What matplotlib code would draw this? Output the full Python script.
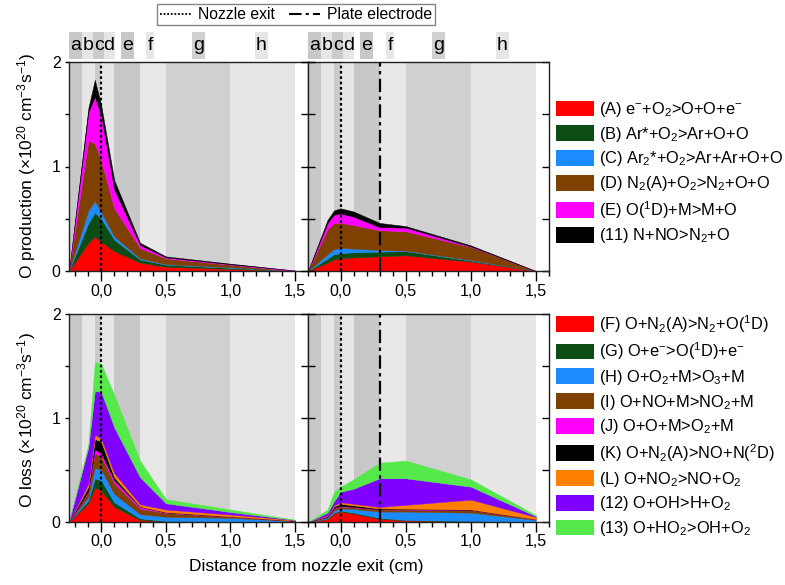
import numpy as np
import matplotlib
matplotlib.use('Agg')
import matplotlib.pyplot as plt
from matplotlib.patches import Patch, Rectangle
from matplotlib.lines import Line2D
from matplotlib.ticker import FixedLocator, MultipleLocator, FuncFormatter
import matplotlib.transforms as mtransforms

plt.rcParams['font.family'] = ['Liberation Sans', 'DejaVu Sans']
plt.rcParams['mathtext.fontset'] = 'custom'
plt.rcParams['mathtext.rm'] = 'Liberation Sans'
plt.rcParams['mathtext.it'] = 'Liberation Sans:italic'
plt.rcParams['mathtext.bf'] = 'Liberation Sans:bold'
plt.rcParams['mathtext.default'] = 'regular'

# ---------------- data ----------------
x = [-0.25, -0.1, -0.05, 0.0, 0.1, 0.3, 0.5, 1.0, 1.5]

# O production, free jet (left) - cumulative stack tops
prod_jet_A = [0, 0.27, 0.33, 0.28, 0.19, 0.08, 0.04, 0.02, 0.0]
prod_jet_B = [0, 0.46, 0.56, 0.50, 0.30, 0.11, 0.06, 0.03, 0.0]
prod_jet_C = [0, 0.58, 0.67, 0.56, 0.33, 0.12, 0.065, 0.035, 0.0]
prod_jet_D = [0, 1.25, 1.22, 1.05, 0.60, 0.22, 0.12, 0.06, 0.0]
prod_jet_E = [0, 1.52, 1.67, 1.48, 0.78, 0.25, 0.13, 0.065, 0.005]
prod_jet_11 = [0, 1.56, 1.83, 1.58, 0.87, 0.27, 0.14, 0.07, 0.005]

# O production, with plate electrode (right)
prod_plate_A = [0, 0.08, 0.11, 0.12, 0.13, 0.14, 0.15, 0.09, 0.0]
prod_plate_B = [0, 0.12, 0.16, 0.17, 0.18, 0.185, 0.19, 0.10, 0.0]
prod_plate_C = [0, 0.16, 0.21, 0.22, 0.215, 0.20, 0.195, 0.105, 0.0]
prod_plate_D = [0, 0.40, 0.46, 0.46, 0.44, 0.39, 0.38, 0.23, 0.0]
prod_plate_E = [0, 0.46, 0.54, 0.55, 0.52, 0.42, 0.415, 0.235, 0.0]
prod_plate_11 = [0, 0.49, 0.58, 0.60, 0.57, 0.46, 0.43, 0.245, 0.0]

# O loss, free jet (left)
loss_jet_F = [0, 0.18, 0.33, 0.30, 0.145, 0.02, 0.005, 0.002, 0.0]
loss_jet_G = [0, 0.21, 0.42, 0.40, 0.19, 0.035, 0.01, 0.005, 0.0]
loss_jet_H = [0, 0.24, 0.52, 0.50, 0.27, 0.075, 0.05, 0.04, 0.008]
loss_jet_I = [0, 0.29, 0.66, 0.63, 0.37, 0.13, 0.088, 0.05, 0.01]
loss_jet_J = [0, 0.30, 0.70, 0.66, 0.40, 0.145, 0.092, 0.052, 0.011]
loss_jet_K = [0, 0.34, 0.80, 0.77, 0.43, 0.15, 0.095, 0.054, 0.012]
loss_jet_L = [0, 0.37, 0.84, 0.80, 0.47, 0.17, 0.12, 0.072, 0.018]
loss_jet_12 = [0, 0.72, 1.26, 1.25, 0.91, 0.43, 0.18, 0.096, 0.02]
loss_jet_13 = [0, 0.75, 1.54, 1.52, 1.22, 0.59, 0.22, 0.12, 0.022]

# O loss, with plate electrode (right)
loss_plate_F = [0, 0.03, 0.08, 0.10, 0.08, 0.03, 0.015, 0.005, 0.0]
loss_plate_G = [0, 0.035, 0.09, 0.11, 0.09, 0.04, 0.02, 0.01, 0.0]
loss_plate_H = [0, 0.045, 0.11, 0.13, 0.125, 0.10, 0.10, 0.09, 0.02]
loss_plate_I = [0, 0.05, 0.13, 0.15, 0.14, 0.12, 0.12, 0.115, 0.025]
loss_plate_J = [0, 0.052, 0.135, 0.155, 0.145, 0.122, 0.122, 0.117, 0.026]
loss_plate_K = [0, 0.058, 0.15, 0.175, 0.16, 0.13, 0.128, 0.12, 0.027]
loss_plate_L = [0, 0.065, 0.16, 0.19, 0.175, 0.145, 0.165, 0.215, 0.048]
loss_plate_12 = [0, 0.09, 0.20, 0.29, 0.32, 0.42, 0.42, 0.34, 0.055]
loss_plate_13 = [0, 0.12, 0.29, 0.34, 0.41, 0.57, 0.59, 0.41, 0.065]

prod_labels = ['(A) e$^{-}$+O$_2$>O+O+e$^{-}$',
               '(B) Ar*+O$_2$>Ar+O+O',
               '(C) Ar$_2$*+O$_2$>Ar+Ar+O+O',
               '(D) N$_2$(A)+O$_2$>N$_2$+O+O',
               '(E) O($^1$D)+M>M+O',
               '(11) N+NO>N$_2$+O']
loss_labels = ['(F) O+N$_2$(A)>N$_2$+O($^1$D)',
               '(G) O+e$^{-}$>O($^1$D)+e$^{-}$',
               '(H) O+O$_2$+M>O$_3$+M',
               '(I) O+NO+M>NO$_2$+M',
               '(J) O+O+M>O$_2$+M',
               '(K) O+N$_2$(A)>NO+N($^2$D)',
               '(L) O+NO$_2$>NO+O$_2$',
               '(12) O+OH>H+O$_2$',
               '(13) O+HO$_2$>OH+O$_2$']

band_edges = [-0.25, -0.15, -0.05, 0.0, 0.1, 0.3, 0.5, 1.0, 1.5]
band_letters = ['a', 'b', 'c', 'd', 'e', 'f', 'g', 'h']
band_label_x = [-0.2, -0.1, -0.02, 0.06, 0.2, 0.38, 0.75, 1.24]
band_colors = ['#c8c8c8', '#e6e6e6', '#cbcbcb', '#e6e6e6',
               '#c8c8c8', '#e8e8e8', '#d0d0d0', '#e6e6e6']
box_widths = [0.1, 0.1, 0.085, 0.085, 0.1, 0.062, 0.1, 0.1]

prod_colors = ['#ff0000', '#0b4d14', '#1a8cff', '#804000', '#ff00ff', '#000000']
loss_colors = ['#ff0000', '#0b4d14', '#1a8cff', '#804000', '#ff00ff',
               '#000000', '#ff8000', '#8000ff', '#55e84a']

nozzle_x = 0.0
plate_x = 0.3

# ---------------- figure ----------------
fig = plt.figure(figsize=(7.85, 5.85), dpi=100)
W, H = 785.0, 585.0

def add_ax(l, r, t, b):
    return fig.add_axes([l / W, 1 - b / H, (r - l) / W, (b - t) / H])

ax_tl = add_ax(69, 308, 62, 271)
ax_tr = add_ax(308, 549, 62, 271)
ax_bl = add_ax(69, 308, 314, 522)
ax_br = add_ax(308, 549, 314, 522)

fmt = FuncFormatter(lambda v, p: ('%.1f' % (abs(v) if abs(v) < 1e-9 else v)).replace('.', ','))


def draw_stack(ax, tops, colors):
    prev = np.zeros(len(x))
    for top, c in zip(tops, colors):
        top = np.asarray(top, dtype=float)
        ax.fill_between(x, prev, top, facecolor=c, edgecolor=c, lw=0.3, zorder=2)
        prev = top


def style(ax, left_col, plate, letters):
    ax.set_xlim(-0.25, 1.6)
    ax.set_ylim(0, 2)
    for i in range(len(band_letters)):
        ax.axvspan(band_edges[i], band_edges[i + 1], color=band_colors[i], lw=0, zorder=0)
    ax.axvline(nozzle_x, color='k', ls=(0, (1.2, 1.2)), lw=1.6, zorder=4)
    if plate:
        ax.axvline(plate_x, color='k', ls=(0, (6, 2, 1.5, 2)), lw=1.6, zorder=4)
    ax.xaxis.set_major_locator(MultipleLocator(0.5))
    ax.xaxis.set_minor_locator(MultipleLocator(0.1))
    ax.xaxis.set_major_formatter(fmt)
    ax.tick_params(axis='x', which='major', direction='out', length=7, width=1,
                   labelsize=11.5, pad=2, top=False)
    ax.tick_params(axis='x', which='minor', direction='out', length=3.5, width=1, top=False)
    ax.yaxis.set_major_locator(FixedLocator([0, 1, 2]))
    ax.yaxis.set_minor_locator(FixedLocator([0.5, 1.5]))
    ax.yaxis.set_major_formatter(FuncFormatter(lambda v, p: '%d' % v))
    if left_col:
        ax.tick_params(axis='y', which='both', direction='out', length=3, width=1,
                       left=True, right=False, labelsize=11.5, pad=3)
        tw = ax.twinx()
        tw.set_ylim(0, 2)
        tw.yaxis.set_major_locator(FixedLocator([0, 0.5, 1, 1.5, 2]))
        tw.tick_params(axis='y', direction='inout', length=10, width=1,
                       right=True, labelright=False)
        for s in tw.spines.values():
            s.set_visible(False)
    else:
        ax.tick_params(axis='y', which='both', direction='in', length=5, width=1,
                       left=False, right=True, labelleft=False, labelright=False)
    for s in ax.spines.values():
        s.set_linewidth(1.0)
        s.set_color('#222222')
    if letters:
        trans = mtransforms.blended_transform_factory(ax.transData, ax.transAxes)
        for i, letter in enumerate(band_letters):
            xc = band_label_x[i]
            bw = box_widths[i]
            ax.add_patch(Rectangle((xc - bw / 2, 1.014), bw, 0.130, transform=trans,
                                   facecolor=band_colors[i], edgecolor='none',
                                   clip_on=False, zorder=4))
            ax.text(xc, 1.078, letter, transform=trans, ha='center', va='center',
                    fontsize=14, zorder=5, clip_on=False)


draw_stack(ax_tl, [prod_jet_A, prod_jet_B, prod_jet_C, prod_jet_D, prod_jet_E, prod_jet_11], prod_colors)
draw_stack(ax_tr, [prod_plate_A, prod_plate_B, prod_plate_C, prod_plate_D, prod_plate_E, prod_plate_11], prod_colors)
draw_stack(ax_bl, [loss_jet_F, loss_jet_G, loss_jet_H, loss_jet_I, loss_jet_J, loss_jet_K,
                   loss_jet_L, loss_jet_12, loss_jet_13], loss_colors)
draw_stack(ax_br, [loss_plate_F, loss_plate_G, loss_plate_H, loss_plate_I, loss_plate_J, loss_plate_K,
                   loss_plate_L, loss_plate_12, loss_plate_13], loss_colors)

style(ax_tl, True, False, True)
style(ax_tr, False, True, True)
style(ax_bl, True, False, False)
style(ax_br, False, True, False)

# axis labels
fig.text(27 / W, 1 - 166 / H, 'O production (×10$^{20}$ cm$^{-3}$s$^{-1}$)', rotation=90,
         ha='center', va='center', fontsize=12.5)
fig.text(27 / W, 1 - 420 / H, 'O loss (×10$^{20}$ cm$^{-3}$s$^{-1}$)', rotation=90,
         ha='center', va='center', fontsize=12.5)
fig.text(306 / W, 1 - 566 / H, 'Distance from nozzle exit (cm)', ha='center', va='center',
         fontsize=12.5)

# top legend
lh = [Line2D([], [], color='k', ls=(0, (1, 1)), lw=1.3),
      Line2D([], [], color='k', ls=(0, (6, 2, 1.5, 2)), lw=1.5)]
leg = fig.legend(lh, ['Nozzle exit', 'Plate electrode'], loc='upper center',
                 bbox_to_anchor=(296 / W, 1 - 4 / H), ncol=2, frameon=True, fancybox=False,
                 edgecolor='#666666', fontsize=11.3, handlelength=2.0, handletextpad=0.4,
                 columnspacing=0.9, borderpad=0.2, borderaxespad=0)
leg.get_frame().set_linewidth(1.0)

# reaction legends
ph = [Patch(facecolor=c, edgecolor='none') for c in prod_colors]
fig.legend(ph, prod_labels, loc='upper left', bbox_to_anchor=(556 / W, 1 - 100 / H),
           frameon=False, fontsize=11.8, handlelength=2.3, handleheight=1.1,
           handletextpad=0.3, labelspacing=0.35, borderpad=0, borderaxespad=0)
lhh = [Patch(facecolor=c, edgecolor='none') for c in loss_colors]
fig.legend(lhh, loss_labels, loc='upper left', bbox_to_anchor=(556 / W, 1 - 313 / H),
           frameon=False, fontsize=11.8, handlelength=2.3, handleheight=1.1,
           handletextpad=0.3, labelspacing=0.35, borderpad=0, borderaxespad=0)

fig.savefig('out.png', dpi=100)
